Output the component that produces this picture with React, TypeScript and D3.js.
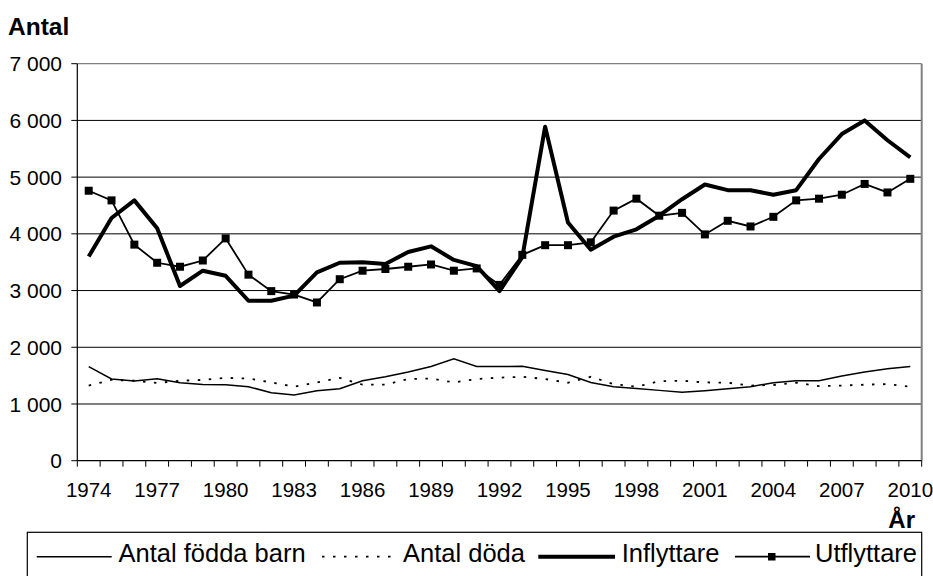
import React from "react";
import * as d3 from "d3";

const years: number[] = d3.range(1974, 2011);
const yTicks: number[] = [0, 1000, 2000, 3000, 4000, 5000, 6000, 7000];
const xLabelYears: number[] = [1974, 1977, 1980, 1983, 1986, 1989, 1992, 1995, 1998, 2001, 2004, 2007, 2010];

const births: number[] = [1660, 1440, 1405, 1445, 1375, 1345, 1340, 1305, 1200, 1160, 1235, 1270, 1410, 1480, 1565, 1660, 1795, 1660,
  1660, 1665, 1590, 1520, 1380, 1305, 1275, 1240, 1205, 1235, 1270, 1305, 1375, 1410, 1410, 1495, 1565, 1620, 1660];
const deaths: number[] = [1325, 1425, 1410, 1370, 1410, 1425, 1460, 1450, 1380, 1305, 1380, 1460, 1340, 1340, 1440, 1450, 1380, 1440,
  1465, 1480, 1440, 1375, 1480, 1350, 1305, 1400, 1410, 1380, 1375, 1325, 1335, 1375, 1315, 1325, 1340, 1350, 1305];
const inflyttare: number[] = [3600, 4280, 4590, 4100, 3080, 3350, 3260, 2820, 2820, 2910, 3320, 3490, 3500, 3470, 3680, 3780, 3540, 3430,
  2990, 3590, 5890, 4200, 3720, 3950, 4080, 4320, 4610, 4870, 4770, 4770, 4690, 4770, 5320, 5760, 6000, 5650, 5350];
const utflyttare: number[] = [4760, 4590, 3810, 3490, 3420, 3530, 3920, 3280, 2990, 2930, 2790, 3200, 3350, 3380, 3420, 3460, 3350, 3390,
  3100, 3630, 3800, 3800, 3850, 4410, 4620, 4320, 4370, 3990, 4230, 4130, 4300, 4590, 4620, 4690, 4880, 4730, 4970];

const seriesNames: string[] = ["Antal födda barn", "Antal döda", "Inflyttare", "Utflyttare"];

const FONT = "'Liberation Sans', Arial, sans-serif";

export default function App() {
  const W = 933, H = 576;
  const left = 77.3, right = 921.7, top = 63.7, bottom = 460.7;

  const x = d3.scaleBand<number>().domain(years).range([left, right]).padding(0);
  const cx = (yr: number) => (x(yr) as number) + x.bandwidth() / 2;
  const y = d3.scaleLinear().domain([0, 7000]).range([bottom, top]);
  const fmt = d3.formatLocale({ decimal: ",", thousands: " ", grouping: [3], currency: ["", ""] }).format(",d");

  const line = (vals: number[]) =>
    d3.line<number>().x((_, i) => cx(years[i])).y((v) => y(v))(vals) as string;

  const tickXs = years.map((yr) => x(yr) as number).concat([right]);

  return (
    <svg width={W} height={H} style={{ position: "absolute", left: 0, top: 0, background: "#fff" }} fontFamily={FONT}>
      <rect x={0} y={0} width={W} height={H} fill="#fff" />
      {/* title */}
      <text x={8} y={35} fontSize={24.5} fontWeight="bold" fill="#000">Antal</text>

      {/* gridlines */}
      {yTicks.filter((t) => t > 0 && t < 7000).map((t) => (
        <line key={t} x1={left} x2={right} y1={y(t)} y2={y(t)} stroke="#000" strokeWidth={1} />
      ))}
      {/* plot border top/right (gray) */}
      <line x1={left} x2={right} y1={y(7000)} y2={y(7000)} stroke="#808080" strokeWidth={1.2} />
      <line x1={right} x2={right} y1={top} y2={bottom} stroke="#808080" strokeWidth={2} />

      {/* axes */}
      <line x1={left} x2={left} y1={top} y2={bottom} stroke="#000" strokeWidth={1.2} />
      <line x1={left} x2={right} y1={bottom} y2={bottom} stroke="#000" strokeWidth={1.2} />
      {yTicks.map((t) => (
        <g key={t}>
          <line x1={left - 6} x2={left} y1={y(t)} y2={y(t)} stroke="#000" strokeWidth={1} />
          <text x={62} y={y(t)} dy="0.36em" textAnchor="end" fontSize={21} fill="#000">{fmt(t)}</text>
        </g>
      ))}
      {tickXs.map((tx, i) => (
        <line key={i} x1={tx} x2={tx} y1={bottom} y2={bottom + 6} stroke="#000" strokeWidth={1} />
      ))}
      {xLabelYears.map((yr) => (
        <text key={yr} x={cx(yr)} y={497} textAnchor="middle" fontSize={20.5} fill="#000">{yr}</text>
      ))}
      <text x={915} y={528} textAnchor="end" fontSize={24} fontWeight="bold" fill="#000">År</text>

      {/* series */}
      <path d={line(births)} fill="none" stroke="#000" strokeWidth={1.5} />
      <path d={line(deaths)} fill="none" stroke="#000" strokeWidth={1.8} strokeDasharray="2.5,8.5" />
      <path d={line(inflyttare)} fill="none" stroke="#000" strokeWidth={4} strokeLinejoin="round" />
      <path d={line(utflyttare)} fill="none" stroke="#000" strokeWidth={1.8} />
      {utflyttare.map((v, i) => (
        <rect key={i} x={cx(years[i]) - 4} y={y(v) - 4} width={8} height={8} fill="#000" />
      ))}

      {/* legend */}
      <rect x={27.3} y={532.3} width={894.4} height={80} fill="#fff" stroke="#000" strokeWidth={1.2} />
      <g fontSize={25.5} fill="#000">
        <line x1={36.7} x2={111.7} y1={556.7} y2={556.7} stroke="#000" strokeWidth={1.5} />
        <text x={118.5} y={561.7}>{seriesNames[0]}</text>
        <line x1={322} x2={396} y1={556.7} y2={556.7} stroke="#000" strokeWidth={1.8} strokeDasharray="2.5,8.5" />
        <text x={403} y={561.7}>{seriesNames[1]}</text>
        <line x1={538.3} x2={615} y1={556.7} y2={556.7} stroke="#000" strokeWidth={4} />
        <text x={621.7} y={561.7}>{seriesNames[2]}</text>
        <line x1={735} x2={810} y1={556.7} y2={556.7} stroke="#000" strokeWidth={1.8} />
        <rect x={768} y={553} width={7.5} height={7.5} fill="#000" />
        <text x={815} y={561.7}>{seriesNames[3]}</text>
      </g>
    </svg>
  );
}
